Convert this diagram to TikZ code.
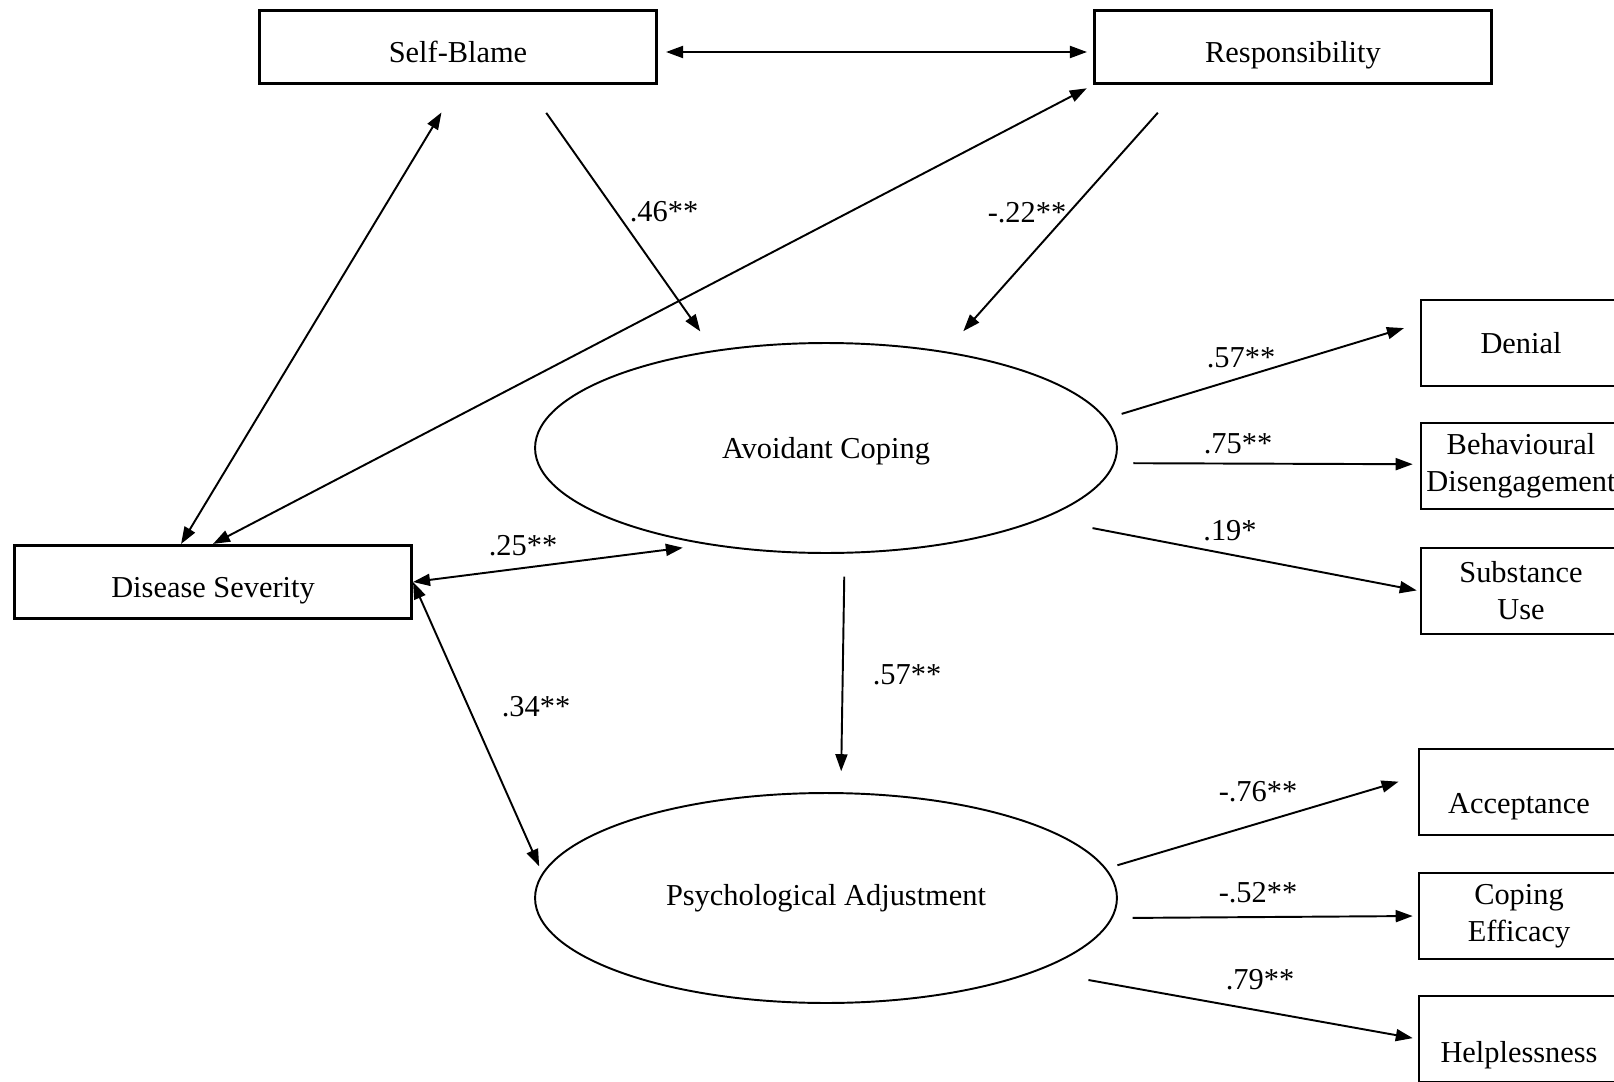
\documentclass[tikz,border=0pt]{standalone}
\usepackage{fontspec}
\setmainfont{Liberation Serif}
\usetikzlibrary{arrows.meta,shapes.geometric}

\begin{document}
\begin{tikzpicture}[x=0.02cm, y=-0.02cm,
      every node/.style={font=\fontsize{17.3}{21}\selectfont},
      obs/.style={rectangle, draw, line width=1.5pt, minimum width=7.95cm,
                  minimum height=1.47cm, inner sep=0pt, text height=18pt, text depth=0pt},
      ind/.style={rectangle, draw, line width=1.5pt, minimum width=4cm,
                  minimum height=1.72cm, inner sep=0pt, align=center},
      lat/.style={ellipse, draw, line width=1.1pt, minimum width=11.64cm,
                  minimum height=4.2cm, inner sep=0pt},
      ar/.style={-{Triangle[length=0.34cm,width=0.24cm]}, line width=1.1pt},
      dar/.style={{Triangle[length=0.34cm,width=0.24cm]}-{Triangle[length=0.34cm,width=0.24cm]},
                  line width=1.1pt},
      lb/.style={inner sep=0pt}
    ]
    \useasboundingbox (0,0) rectangle (1614,1082);
    \clip (0,0) rectangle (1614,1082);
    \fill[white] (0,0) rectangle (1614,1082);
    % predictors
    \node[obs] (sb) at (458,47) {Self-Blame};
    \node[obs] (resp) at (1293,47) {Responsibility};
    \node[obs] (ds) at (213,582) {Disease Severity};
    % latent variables
    \node[lat, text depth=0pt] (ac) at (826,448) {Avoidant Coping};
    \node[lat] (pa) at (826,898) {Psychological Adjustment};
    % indicators
    \node[ind] (den) at (1521,343) {Denial};
    \node[ind] (bd) at (1521,466) {Behavioural\\Disengagement};
    \node[ind] (su) at (1521,591) {Substance\\Use};
    \node[ind] (acc) at (1519,792) {\raisebox{-0.3cm}[\height][\depth]{Acceptance}};
    \node[ind] (ce) at (1519,916) {Coping\\Efficacy};
    \node[ind] (hl) at (1519,1039) {\raisebox{-0.32cm}[\height][\depth]{Helplessness}};
    % covariances
    \draw[dar, shorten <=0.16cm, shorten >=0.12cm] ([yshift=-0.1cm]sb.east) -- ([yshift=-0.1cm]resp.west);
    \draw[dar, shorten <=0.64cm] (sb.south) -- (ds.130);
    \draw[dar, shorten <=0.14cm] (resp.south west) -- (ds.north);
    \draw[dar, shorten >=0.48cm] (ds.east) -- (ac.-141);
    \draw[dar, shorten >=0.15cm] (ds.east) -- (pa.175);
    % structural paths
    \draw[ar, shorten <=0.68cm, shorten >=0.46cm] (sb.-29) -- (ac.139);
    \draw[ar, shorten <=0.74cm, shorten >=0.54cm] (resp.-161) -- (ac.39);
    \draw[ar, shorten <=0.46cm, shorten >=0.42cm] (ac.-80) -- (pa.82);
    % loadings
    \draw[ar, shorten <=0.32cm, shorten >=0.33cm] (ac.6) -- (den.169);
    \draw[ar, shorten <=0.37cm, shorten >=0.14cm] (ac.-3) -- (bd.179);
    \draw[ar, shorten <=1.0cm, shorten >=0.06cm] (ac.-18) -- (su.west);
    \draw[ar, shorten <=0.23cm, shorten >=0.4cm] (pa.6) -- (acc.171);
    \draw[ar, shorten <=0.4cm, shorten >=0.1cm] (pa.-4) -- (ce.west);
    \draw[ar, shorten <=1.03cm, shorten >=0.1cm] (pa.-19) -- (hl.west);
    % coefficients
    \node[lb] (c1) at (664,212) {.46**};
    \node[lb] (c2) at (1027,213) {-.22**};
    \node[lb] (c3) at (523,546) {.25**};
    \node[lb] (c4) at (536,707) {.34**};
    \node[lb] (c5) at (907,675) {.57**};
    \node[lb] (c6) at (1241,358) {.57**};
    \node[lb] (c7) at (1238,444) {.75**};
    \node[lb] (c8) at (1230,531) {.19*};
    \node[lb] (c9) at (1258,792) {-.76**};
    \node[lb] (c10) at (1258,893) {-.52**};
    \node[lb] (c11) at (1260,980) {.79**};
  \end{tikzpicture}
\end{document}
